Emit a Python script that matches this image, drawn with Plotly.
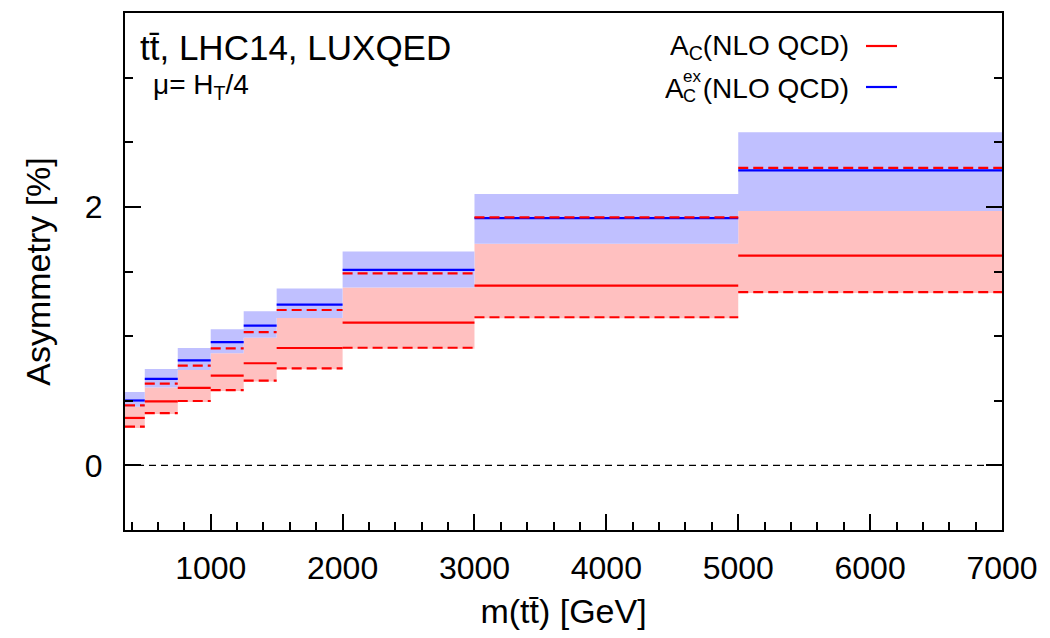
import plotly.graph_objects as go

# ---------------- data ----------------
bin_edges = [350, 500, 750, 1000, 1250, 1500, 2000, 3000, 5000, 7000]

# A_C (NLO QCD): central value, scale band, dashed variants
ac_central = [0.367, 0.495, 0.600, 0.695, 0.790, 0.908, 1.105, 1.390, 1.623]
ac_band_lo = [0.290, 0.398, 0.490, 0.575, 0.648, 0.744, 0.902, 1.138, 1.333]
ac_band_hi = [0.454, 0.602, 0.738, 0.867, 0.987, 1.141, 1.377, 1.715, 1.969]
ac_dash_up = [0.464, 0.633, 0.772, 0.905, 1.031, 1.202, 1.485, 1.918, 2.302]
ac_dash_lo = [0.300, 0.405, 0.498, 0.582, 0.656, 0.751, 0.910, 1.146, 1.341]

# A_C^ex (NLO QCD): central value and scale band
acex_central = [0.502, 0.669, 0.813, 0.954, 1.082, 1.244, 1.513, 1.913, 2.282]
acex_band_lo = [0.454, 0.602, 0.738, 0.867, 0.987, 1.141, 1.377, 1.715, 1.969]
acex_band_hi = [0.567, 0.746, 0.908, 1.054, 1.192, 1.369, 1.654, 2.100, 2.577]

x_ticks = [1000, 2000, 3000, 4000, 5000, 6000, 7000]
y_ticks = [0, 2]

RED = "#ff0000"
BLUE = "#0000ff"
RED_FILL = "#ffc0c0"
BLUE_FILL = "#c0c0ff"
FONT = "Liberation Sans, Arial, Helvetica, sans-serif"


def step_y(vals):
    return list(vals) + [vals[-1]]


def segments(vals):
    xs, ys = [], []
    for i, v in enumerate(vals):
        xs += [bin_edges[i], bin_edges[i + 1], None]
        ys += [v, v, None]
    return xs, ys


fig = go.Figure()


def add_band(lo, hi, color):
    fig.add_trace(go.Scatter(x=bin_edges, y=step_y(lo), mode="lines",
                             line=dict(width=0, shape="hv"), hoverinfo="skip",
                             showlegend=False))
    fig.add_trace(go.Scatter(x=bin_edges, y=step_y(hi), mode="lines",
                             line=dict(width=0, shape="hv"), fill="tonexty",
                             fillcolor=color, hoverinfo="skip", showlegend=False))


add_band(ac_band_lo, ac_band_hi, RED_FILL)
add_band(acex_band_lo, acex_band_hi, BLUE_FILL)


def add_seg(vals, color, dash="solid"):
    xs, ys = segments(vals)
    fig.add_trace(go.Scatter(x=xs, y=ys, mode="lines",
                             line=dict(color=color, width=2.2, dash=dash),
                             connectgaps=False, showlegend=False))


add_seg(acex_central, BLUE)
add_seg(ac_dash_up, RED, "10px,5px")
add_seg(ac_dash_lo, RED, "10px,5px")
add_seg(ac_central, RED)

# zero line
fig.add_shape(type="line", xref="paper", x0=0, x1=1, yref="y", y0=0, y1=0,
              line=dict(color="black", width=1.2, dash="7px,5px"), layer="below")

# ---------------- layout ----------------
L, R, T, B = 125, 48, 13, 108
W, H = 1050, 638
pw, ph = W - L - R, H - T - B


def px(x):
    return (x - L) / pw


def py(y):
    return 1 - (y - T) / ph


fig.update_layout(
    width=W, height=H,
    margin=dict(l=L, r=R, t=T, b=B),
    paper_bgcolor="white", plot_bgcolor="white",
    font=dict(family=FONT, color="black", size=30),
    showlegend=False,
)

fig.update_xaxes(
    range=[350, 7000], tickvals=x_ticks, ticktext=[str(v) for v in x_ticks],
    ticks="inside", ticklen=16, tickwidth=2, tickcolor="black",
    minor=dict(dtick=200, tick0=0, ticks="inside", ticklen=8, tickwidth=1.5,
               tickcolor="black", showgrid=False),
    showline=True, linewidth=2, linecolor="black", mirror=True,
    showgrid=False, zeroline=False,
    tickfont=dict(size=32), ticklabelstandoff=9,
    title=dict(text="m(tt\u0304) [GeV]", font=dict(size=34), standoff=14),
)
fig.update_yaxes(
    range=[-0.5, 3.5], tickvals=y_ticks, ticktext=[str(v) for v in y_ticks],
    ticks="inside", ticklen=16, tickwidth=2, tickcolor="black",
    minor=dict(dtick=0.5, tick0=0, ticks="inside", ticklen=8, tickwidth=1.5,
               tickcolor="black", showgrid=False),
    showline=True, linewidth=2, linecolor="black", mirror="ticks",
    showgrid=False, zeroline=False,
    tickfont=dict(size=32), ticklabelstandoff=14,
    title=dict(text="Asymmetry [%]", font=dict(size=34), standoff=24),
)

# top-left labels
fig.add_annotation(xref="paper", yref="paper", x=px(138), y=py(47),
                   xanchor="left", yanchor="middle", showarrow=False,
                   text="tt\u0304, LHC14, LUXQED", font=dict(size=35))
fig.add_annotation(xref="paper", yref="paper", x=px(151), y=py(87),
                   xanchor="left", yanchor="middle", showarrow=False,
                   text="\u03bc= H<sub>T</sub>/4", font=dict(size=28))

# legend (text left, line right)
# row 1: A_C(NLO QCD)
fig.add_annotation(xref="paper", yref="paper", x=px(851), y=py(47),
                   xanchor="right", yanchor="middle", showarrow=False,
                   height=34, text="A<sub>C</sub>(NLO QCD)", font=dict(size=28))
fig.add_shape(type="line", xref="paper", yref="paper",
              x0=px(866), x1=px(897), y0=py(46), y1=py(46),
              line=dict(color=RED, width=2.2))
# row 2: A_C^ex(NLO QCD)
fig.add_annotation(xref="paper", yref="paper", x=px(851), y=py(88),
                   xanchor="right", yanchor="middle", showarrow=False,
                   height=34, width=146, align="right",
                   text="(NLO QCD)", font=dict(size=28))
fig.add_annotation(xref="paper", yref="paper", x=px(686), y=py(88),
                   xanchor="right", yanchor="middle", showarrow=False,
                   height=34, text="A", font=dict(size=28))
fig.add_annotation(xref="paper", yref="paper", x=px(681), y=py(86),
                   xanchor="left", yanchor="bottom", showarrow=False,
                   height=16, width=18, align="left",
                   text="ex", font=dict(size=17))
fig.add_annotation(xref="paper", yref="paper", x=px(681), y=py(86),
                   xanchor="left", yanchor="top", showarrow=False,
                   height=16, width=18, align="left",
                   text="C", font=dict(size=18))
fig.add_shape(type="line", xref="paper", yref="paper",
              x0=px(866), x1=px(897), y0=py(87), y1=py(87),
              line=dict(color=BLUE, width=2.2))

fig.write_html("out.html")
